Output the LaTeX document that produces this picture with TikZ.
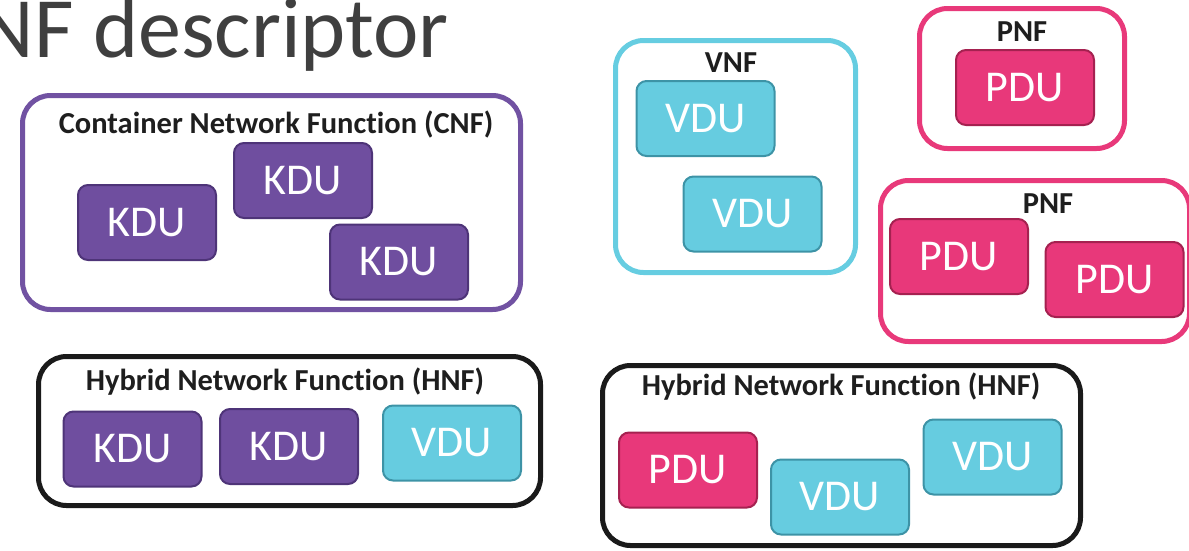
\documentclass[tikz,border=0pt]{standalone}
\usepackage{fontspec}
\setmainfont[Ligatures=NoCommon]{Carlito}
\definecolor{kdufill}{HTML}{6F4E9F}
\definecolor{kduline}{HTML}{4E3478}
\definecolor{cnfline}{HTML}{7152A2}
\definecolor{vdufill}{HTML}{66CCE0}
\definecolor{vduline}{HTML}{3D93A6}
\definecolor{vnfline}{HTML}{66CDE1}
\definecolor{pdufill}{HTML}{E8387A}
\definecolor{pduline}{HTML}{A52150}
\definecolor{pnfline}{HTML}{E8397A}
\definecolor{hnfline}{HTML}{1A1A1A}
\definecolor{titlegray}{HTML}{3F3F3F}
\definecolor{labelblack}{HTML}{1E1E1E}
\tikzset{
  unitbox/.style={rectangle, rounded corners=10pt, line width=2pt,
    minimum width=138pt, minimum height=75pt, inner sep=0pt,
    text=white, font=\fontsize{44}{50}\selectfont},
  kdu/.style={unitbox, draw=kduline, fill=kdufill},
  vdu/.style={unitbox, draw=vduline, fill=vdufill},
  pdu/.style={unitbox, draw=pduline, fill=pdufill},
  group/.style={rectangle, rounded corners=28pt, line width=5pt, inner sep=0pt},
  grouptitle/.style={anchor=base, inner sep=0pt, text=labelblack,
    font=\fontsize{30.5}{36}\selectfont\bfseries},
}
\begin{document}
\begin{tikzpicture}[x=1pt, y=-1pt]
\useasboundingbox (0,0) rectangle (1189,550);
\clip (0,0) rectangle (1189,550);

% heading, running off the left edge
\node[anchor=base west, inner sep=0pt, text=titlegray,
      font=\fontsize{86}{100}\selectfont] (heading) at (-21.5,57) {NF descriptor};

% container network function
\node[group, draw=cnfline, minimum width=498pt, minimum height=214pt] (cnf) at (271.5,202.5) {};
\node[grouptitle] (cnft) at (276,133) {Container Network Function (CNF)};
\node[kdu] (cnfk1) at (147,222.5) {KDU};
\node[kdu] (cnfk2) at (303,180.5) {KDU};
\node[kdu] (cnfk3) at (399,262) {KDU};

% virtual network function
\node[group, draw=vnfline, minimum width=240pt, minimum height=232pt] (vnf) at (735.5,156.5) {};
\node[grouptitle] (vnft) at (731,72) {VNF};
\node[vdu] (vnfv1) at (705.5,118.5) {VDU};
\node[vdu] (vnfv2) at (752.5,214) {VDU};

% physical network functions
\node[group, draw=pnfline, minimum width=205pt, minimum height=140pt] (pnfa) at (1022,78.5) {};
\node[grouptitle] (pnfat) at (1022,41) {PNF};
\node[pdu] (pnfap) at (1025,87.5) {PDU};

\node[group, draw=pnfline, minimum width=309pt, minimum height=161pt] (pnfb) at (1035,261) {};
\node[grouptitle] (pnfbt) at (1048,213) {PNF};
\node[pdu] (pnfbp1) at (959,256.5) {PDU};
\node[pdu] (pnfbp2) at (1114.5,279.5) {PDU};

% hybrid network functions
\node[group, draw=hnfline, minimum width=502pt, minimum height=149pt] (hnfa) at (289.5,431) {};
\node[grouptitle] (hnfat) at (285,390) {Hybrid Network Function (HNF)};
\node[kdu] (hnfak1) at (132.5,449) {KDU};
\node[kdu] (hnfak2) at (289,446.5) {KDU};
\node[vdu] (hnfav) at (452,443) {VDU};

\node[group, draw=hnfline, minimum width=478pt, minimum height=180pt] (hnfb) at (841.5,455.5) {};
\node[grouptitle] (hnfbt) at (841,395) {Hybrid Network Function (HNF)};
\node[pdu] (hnfbp) at (688,470) {PDU};
\node[vdu] (hnfbv1) at (840,497) {VDU};
\node[vdu] (hnfbv2) at (992.5,457) {VDU};
\end{tikzpicture}
\end{document}
